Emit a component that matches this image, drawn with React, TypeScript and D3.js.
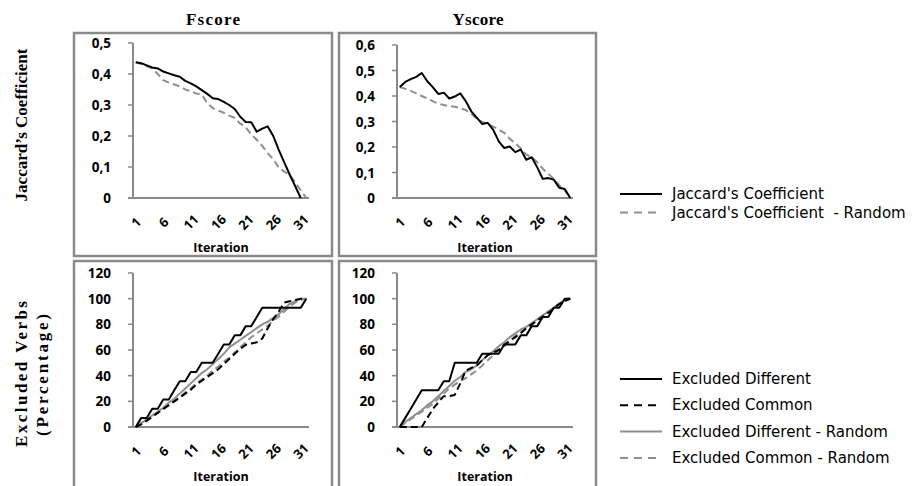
import React from "react";
import * as d3 from "d3";

// ---------- data ----------
const iterations = [1, 2, 3, 4, 5, 6, 7, 8, 9, 10, 11, 12, 13, 14, 15, 16, 17, 18, 19, 20, 21, 22, 23, 24, 25, 26, 27, 28, 29, 30, 31, 32];
const iterationTicks = [1, 6, 11, 16, 21, 26, 31];
const fscoreJaccardTicks = [0, 0.1, 0.2, 0.3, 0.4, 0.5];
const yscoreJaccardTicks = [0, 0.1, 0.2, 0.3, 0.4, 0.5, 0.6];
const percentTicks = [0, 20, 40, 60, 80, 100, 120];

const fscoreJaccard = [0.438, 0.435, 0.428, 0.421, 0.418, 0.408, 0.402, 0.396, 0.391, 0.378, 0.37, 0.36, 0.348, 0.336, 0.322, 0.319, 0.31, 0.3, 0.287, 0.262, 0.245, 0.244, 0.214, 0.224, 0.231, 0.2, 0.155, 0.115, 0.075, 0.038, 0.0];
const fscoreJaccardRandom = [0.438, 0.432, 0.425, 0.418, 0.4, 0.38, 0.372, 0.366, 0.36, 0.35, 0.345, 0.337, 0.334, 0.306, 0.29, 0.282, 0.275, 0.266, 0.258, 0.24, 0.228, 0.205, 0.188, 0.168, 0.145, 0.125, 0.098, 0.085, 0.074, 0.05, 0.025, 0.0];
const yscoreJaccard = [0.435, 0.455, 0.466, 0.475, 0.49, 0.458, 0.435, 0.408, 0.413, 0.39, 0.398, 0.41, 0.38, 0.34, 0.315, 0.29, 0.295, 0.267, 0.222, 0.196, 0.202, 0.18, 0.19, 0.15, 0.16, 0.12, 0.075, 0.078, 0.072, 0.04, 0.035, 0.0];
const yscoreJaccardRandom = [0.435, 0.428, 0.42, 0.41, 0.4, 0.39, 0.38, 0.37, 0.365, 0.36, 0.358, 0.352, 0.345, 0.33, 0.31, 0.298, 0.29, 0.28, 0.268, 0.255, 0.232, 0.215, 0.195, 0.17, 0.16, 0.14, 0.115, 0.095, 0.075, 0.05, 0.03, 0.0];

const fscoreExcludedDifferent = [0, 7.1, 7.1, 14.3, 14.3, 21.4, 21.4, 28.6, 35.7, 35.7, 42.9, 42.9, 50, 50, 50, 57.1, 64.3, 64.3, 71.4, 71.4, 78.6, 78.6, 85.7, 92.9, 92.9, 92.9, 92.9, 92.9, 92.9, 92.9, 92.9, 100];
const fscoreExcludedCommon = [0, 2, 5, 8, 11, 14, 17, 20, 23, 26, 29, 33, 36, 39, 42, 45, 49, 53, 57, 61, 64, 65, 66, 69, 77, 84, 90, 97, 98, 99, 100, 100];
const fscoreExcludedDifferentRandom = [0, 3, 6, 9, 12, 15, 19, 22, 26, 30, 34, 38, 42, 45, 49, 53, 57, 62, 65, 68, 71, 74, 77, 80, 82, 85, 88, 92, 96, 98, 100, 100];
const fscoreExcludedCommonRandom = [0, 3, 5, 8, 11, 14, 17, 20, 23, 27, 30, 34, 37, 40, 44, 47, 51, 54, 58, 62, 66, 70, 73, 76, 79, 83, 86, 90, 94, 97, 99, 100];

const yscoreExcludedDifferent = [0, 7.1, 14.3, 21.4, 28.6, 28.6, 28.6, 28.6, 35.7, 35.7, 50, 50, 50, 50, 50, 57.1, 57.1, 57.1, 57.1, 64.3, 64.3, 64.3, 71.4, 71.4, 78.6, 78.6, 85.7, 85.7, 92.9, 92.9, 100, 100];
const yscoreExcludedCommon = [0, 0, 0, 0, 0, 7, 14, 19, 24, 24, 25, 34, 44, 46, 48, 52, 56, 58, 60, 64, 67, 70, 73, 77, 80, 83, 86, 89, 92, 96, 98, 100];
const yscoreExcludedDifferentRandom = [0, 4, 7, 10, 13, 17, 20, 24, 28, 32, 36, 39, 43, 45, 48, 52, 56, 59, 63, 66, 70, 73, 76, 78, 81, 84, 87, 90, 93, 96, 99, 100];
const yscoreExcludedCommonRandom = [0, 3, 6, 9, 12, 15, 18, 22, 26, 30, 33, 36, 38, 41, 44, 48, 52, 56, 60, 63, 67, 71, 74, 77, 80, 83, 87, 90, 93, 96, 99, 100];

const jaccardLegend = ["Jaccard's Coefficient", "Jaccard's Coefficient  - Random"];
const excludedLegend = ["Excluded Different", "Excluded Common", "Excluded Different - Random", "Excluded Common - Random"];

// ---------- styles ----------
const BLACK = "#000000";
const GREY = "#8f8f8f";
const FRAME = "#8a8a8a";
const AXIS = "#8a8a8a";
const SANS = "'Open Sans', 'Noto Sans', sans-serif";
const LEGEND_FONT = "'DejaVu Sans', 'Open Sans', sans-serif";
const SERIF = "'Liberation Serif', 'Times New Roman', serif";

type Series = { values: number[]; color: string; dash?: string };

const PLOT_W = 176;

function Panel(props: {
  x0: number;
  yTop: number;
  yBottom: number;
  ticks: number[];
  fmt: (v: number) => string;
  series: Series[];
}) {
  const { x0, yTop, yBottom, ticks, fmt, series } = props;
  const x = d3.scaleBand<number>().domain(iterations).range([x0, x0 + PLOT_W]).padding(0);
  const bw = x.bandwidth();
  const maxV = ticks[ticks.length - 1];
  const y = d3.scaleLinear().domain([0, maxV]).range([yBottom, yTop]);
  const line = d3
    .line<number>()
    .x((_, i) => (x(iterations[i]) as number) + bw / 2)
    .y((d) => y(d));
  return (
    <g>
      <line x1={x0} x2={x0} y1={y(maxV)} y2={y(0)} stroke={AXIS} strokeWidth={2} />
      <line x1={x0 - 5} x2={x0 + PLOT_W} y1={y(0)} y2={y(0)} stroke={AXIS} strokeWidth={2} />
      {ticks.map((t) => (
        <g key={t}>
          <line x1={x0 - 5} x2={x0} y1={y(t)} y2={y(t)} stroke={AXIS} strokeWidth={1.5} />
          <text x={x0 - 22} y={y(t)} textAnchor="end" dominantBaseline="central" fontFamily={SANS} fontWeight={700} fontSize={13.5} fill="#000">
            {fmt(t)}
          </text>
        </g>
      ))}
      {iterationTicks.map((t) => {
        const cx = (x(t) as number) + bw / 2;
        const cy = y(0) + 24;
        return (
          <text key={t} x={cx} y={cy} transform={`rotate(-45 ${cx} ${cy})`} textAnchor="middle" dominantBaseline="central" fontFamily={SANS} fontWeight={700} fontSize={13} fill="#000">
            {t}
          </text>
        );
      })}
      <text x={x0 + PLOT_W / 2} y={y(0) + 49} textAnchor="middle" dominantBaseline="central" fontFamily={SANS} fontWeight={700} fontSize={12.5} fill="#000">
        Iteration
      </text>
      {series.map((s, i) => (
        <path key={i} d={line(s.values) as string} fill="none" stroke={s.color} strokeWidth={2} strokeDasharray={s.dash} strokeLinejoin="round" />
      ))}
    </g>
  );
}

const fmtComma = (v: number) => (v === 0 ? "0" : d3.format(".1f")(v).replace(".", ","));
const fmtInt = (v: number) => String(v);

function Legend(props: { x: number; y: number; gap: number; labels: string[]; styles: Series[] }) {
  const { x, y, gap, labels, styles } = props;
  return (
    <g>
      {labels.map((l, i) => (
        <g key={l}>
          <line x1={x} x2={x + 42} y1={y + i * gap} y2={y + i * gap} stroke={styles[i].color} strokeWidth={2} strokeDasharray={styles[i].dash ? "8,6" : undefined} />
          <text x={x + 52} y={y + i * gap} dominantBaseline="central" fontFamily={LEGEND_FONT} fontSize={15} fill="#000" style={{ whiteSpace: "pre" }}>
            {l}
          </text>
        </g>
      ))}
    </g>
  );
}

export default function App() {
  const topSeriesF: Series[] = [
    { values: fscoreJaccardRandom, color: GREY, dash: "7,4" },
    { values: fscoreJaccard, color: BLACK },
  ];
  const topSeriesY: Series[] = [
    { values: yscoreJaccardRandom, color: GREY, dash: "7,4" },
    { values: yscoreJaccard, color: BLACK },
  ];
  const botSeriesF: Series[] = [
    { values: fscoreExcludedDifferentRandom, color: GREY },
    { values: fscoreExcludedCommonRandom, color: GREY, dash: "7,4" },
    { values: fscoreExcludedCommon, color: BLACK, dash: "7,4" },
    { values: fscoreExcludedDifferent, color: BLACK },
  ];
  const botSeriesY: Series[] = [
    { values: yscoreExcludedDifferentRandom, color: GREY },
    { values: yscoreExcludedCommonRandom, color: GREY, dash: "7,4" },
    { values: yscoreExcludedCommon, color: BLACK, dash: "7,4" },
    { values: yscoreExcludedDifferent, color: BLACK },
  ];
  return (
    <div style={{ position: "absolute", left: 0, top: 0 }}>
      <svg width={917} height={486} style={{ display: "block", background: "#fff" }}>
        <rect x={74} y={33} width={258} height={223} fill="none" stroke={FRAME} strokeWidth={2.5} />
        <rect x={339} y={33} width={257} height={223} fill="none" stroke={FRAME} strokeWidth={2.5} />
        <rect x={74} y={261} width={258} height={232} fill="none" stroke={FRAME} strokeWidth={2.5} />
        <rect x={339} y={261} width={257} height={232} fill="none" stroke={FRAME} strokeWidth={2.5} />

        <text x={213} y={25} textAnchor="middle" fontFamily={SERIF} fontWeight={700} fontSize={17} textLength={54} lengthAdjust="spacing">Fscore</text>
        <text x={478} y={25} textAnchor="middle" fontFamily={SERIF} fontWeight={700} fontSize={17} textLength={51} lengthAdjust="spacing">Yscore</text>

        <text transform="translate(27,125) rotate(-90)" textAnchor="middle" fontFamily={SERIF} fontWeight={700} fontSize={17}>Jaccard’s Coefficient</text>
        <text transform="translate(27,374) rotate(-90)" textAnchor="middle" fontFamily={SERIF} fontWeight={700} fontSize={17} textLength={146} lengthAdjust="spacing">Excluded Verbs</text>
        <text transform="translate(48,375) rotate(-90)" textAnchor="middle" fontFamily={SERIF} fontWeight={700} fontSize={17} textLength={122} lengthAdjust="spacing">(Percentage)</text>

        <Panel x0={133} yTop={43} yBottom={198} ticks={fscoreJaccardTicks} fmt={fmtComma} series={topSeriesF} />
        <Panel x0={397} yTop={45} yBottom={198} ticks={yscoreJaccardTicks} fmt={fmtComma} series={topSeriesY} />
        <Panel x0={133} yTop={273} yBottom={427} ticks={percentTicks} fmt={fmtInt} series={botSeriesF} />
        <Panel x0={397} yTop={273} yBottom={427} ticks={percentTicks} fmt={fmtInt} series={botSeriesY} />

        <Legend x={620} y={194} gap={18.5} labels={jaccardLegend} styles={[{ values: [], color: BLACK }, { values: [], color: GREY, dash: "d" }]} />
        <Legend x={620} y={379} gap={26.3} labels={excludedLegend} styles={[{ values: [], color: BLACK }, { values: [], color: BLACK, dash: "d" }, { values: [], color: GREY }, { values: [], color: GREY, dash: "d" }]} />
      </svg>
    </div>
  );
}
